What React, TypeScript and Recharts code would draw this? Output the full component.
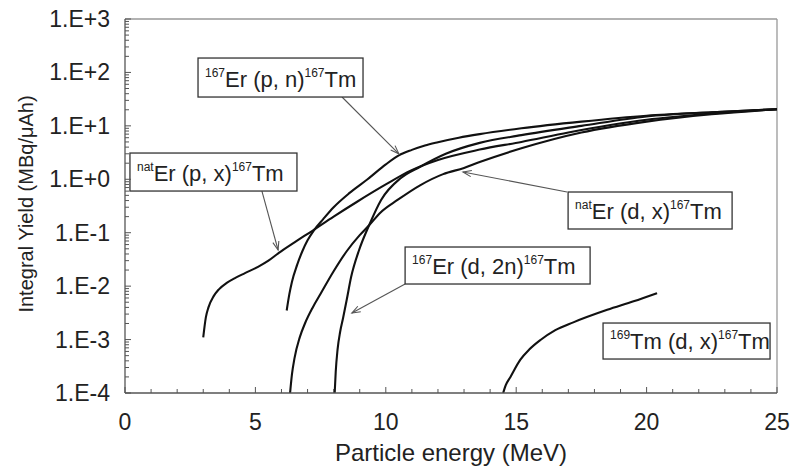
import React from 'react';
import { LineChart, Line, XAxis, YAxis, ReferenceLine, ReferenceDot } from 'recharts';

// ---- data (energy MeV, integral yield MBq/uAh) ----
const natErPxData: [number, number][] = [
  [3.0, 1.1e-3], [3.1, 2.6e-3], [3.2, 4.0e-3], [3.4, 6.5e-3], [3.6, 8.7e-3], [3.9, 0.0115],
  [4.2, 0.014], [4.6, 0.0175], [5.1, 0.023], [5.5, 0.03], [5.9, 0.042], [6.5, 0.066],
  [7.2, 0.11], [8.0, 0.2], [8.9, 0.38], [10.0, 0.8], [10.95, 1.45], [12.0, 2.3],
  [13.6, 3.6], [15.2, 5.0], [17.0, 7.5], [20.0, 13], [22.5, 17], [25, 20.5],
];
const er167PnData: [number, number][] = [
  [6.2, 3.5e-3], [6.3, 7e-3], [6.4, 0.012], [6.6, 0.025], [6.8, 0.045], [7.0, 0.072],
  [7.25, 0.112], [7.6, 0.18], [8.0, 0.3], [8.6, 0.55], [9.3, 1.0], [10.0, 1.9],
  [10.5, 2.8], [11.0, 3.55], [11.5, 4.3], [12.0, 4.95], [12.8, 6.0], [13.6, 7.0],
  [15.2, 9.0], [17.5, 12], [20.0, 15.5], [22.5, 18], [25, 20.5],
];
const er167D2nData: [number, number][] = [
  [8.04, 1e-4], [8.08, 2.5e-4], [8.15, 6.5e-4], [8.25, 1.4e-3], [8.36, 2.5e-3], [8.5, 5.5e-3],
  [8.67, 0.0148], [8.98, 0.048], [9.36, 0.138], [9.82, 0.41], [10.58, 1.06], [11.3, 1.7],
  [12.3, 3.0], [13.6, 4.8], [15.2, 6.7], [17.5, 10], [20.0, 15], [22.5, 18], [25, 20.5],
];
const natErDxData: [number, number][] = [
  [6.33, 1e-4], [6.4, 2.2e-4], [6.5, 4.5e-4], [6.7, 1.1e-3], [6.9, 2.0e-3], [7.2, 4e-3],
  [7.5, 7.2e-3], [8.0, 0.019], [8.5, 0.045], [9.0, 0.09], [9.36, 0.138], [9.8, 0.24],
  [10.45, 0.41], [11.33, 0.78], [12.2, 1.25], [13.0, 1.63], [13.6, 2.1], [15.2, 3.8],
  [17.5, 7.5], [20.0, 12], [22.5, 16.5], [25, 20.5],
];
const tm169DxData: [number, number][] = [
  [14.5, 1e-4], [14.6, 1.4e-4], [14.78, 2.0e-4], [15.16, 4.2e-4], [15.5, 6.5e-4],
  [15.93, 9.8e-4], [16.5, 1.5e-3], [17.19, 2.1e-3], [18.49, 3.6e-3], [19.5, 5.2e-3],
  [20.4, 7.4e-3],
];

const xMajorTicks = [0, 5, 10, 15, 20, 25];
const xAllTicks = [0, 1, 2, 3, 4, 5, 6, 7, 8, 9, 10, 11, 12, 13, 14, 15, 16, 17, 18, 19, 20, 21, 22, 23, 24, 25];
const yMajorTicks = [1e-4, 1e-3, 1e-2, 1e-1, 1, 10, 100, 1000];
const yTickLabels = ['1.E-4', '1.E-3', '1.E-2', '1.E-1', '1.E+0', '1.E+1', '1.E+2', '1.E+3'];
const yMinorMultipliers = [2, 3, 4, 5, 6, 7, 8, 9];

const xTitle = 'Particle energy (MeV)';
const yTitle = 'Integral Yield (MBq/\u03BCAh)';

type Part = [string, string];
const annotationBoxes: { parts: Part[]; x: number; y: number; w: number; h: number }[] = [
  { parts: [['s', '167'], ['t', 'Er (p, n)'], ['s', '167'], ['t', 'Tm']], x: 2.8, y: 186, w: 165, h: 39 },
  { parts: [['s', 'nat'], ['t', 'Er (p, x)'], ['s', '167'], ['t', 'Tm']], x: 0.19, y: 3.1, w: 167, h: 38 },
  { parts: [['s', 'nat'], ['t', 'Er (d, x)'], ['s', '167'], ['t', 'Tm']], x: 16.99, y: 0.578, w: 164, h: 37 },
  { parts: [['s', '167'], ['t', 'Er (d, 2n)'], ['s', '167'], ['t', 'Tm']], x: 10.74, y: 0.054, w: 185, h: 37 },
  { parts: [['s', '169'], ['t', 'Tm (d, x)'], ['s', '167'], ['t', 'Tm']], x: 18.33, y: 2.04e-3, w: 167, h: 36 },
];
const annotationArrows: { from: [number, number]; to: [number, number] }[] = [
  { from: [8.32, 34.7], to: [10.5, 3.0] },
  { from: [5.25, 0.6], to: [5.87, 0.0475] },
  { from: [16.95, 0.578], to: [12.96, 1.37] },
  { from: [10.74, 0.011], to: [8.7, 3.14e-3] },
];

const FONT = '"Liberation Sans", Arial, sans-serif';

const toPts = (arr: [number, number][]) => arr.map(([x, y]) => ({ x, y }));

const yAllTicks: number[] = [];
yMajorTicks.forEach((m, i) => {
  yAllTicks.push(m);
  if (i < yMajorTicks.length - 1) yMinorMultipliers.forEach((k) => yAllTicks.push(m * k));
});

const majorIndex = (v: number) => {
  const l = Math.log10(v);
  const r = Math.round(l);
  if (Math.abs(l - r) < 1e-6) return yMajorTicks.findIndex((m) => Math.abs(Math.log10(m) - r) < 1e-6);
  return -1;
};

const XTick = (props: any) => {
  const { x, y, payload } = props;
  const v = payload.value;
  const major = xMajorTicks.includes(v);
  return (
    <g>
      <line x1={x} x2={x} y1={y} y2={y - (major ? 6 : 4)} stroke="#555" strokeWidth={1} />
      {major && (
        <text x={x} y={y + 37} textAnchor="middle" fontSize={23} fill="#222" fontFamily={FONT}>
          {v}
        </text>
      )}
    </g>
  );
};

const YTick = (props: any) => {
  const { x, y, payload } = props;
  const idx = majorIndex(payload.value);
  const major = idx >= 0;
  return (
    <g>
      <line x1={x} x2={x + (major ? 6 : 4)} y1={y} y2={y} stroke="#555" strokeWidth={1} />
      {major && (
        <text x={x - 15} y={y + 8} textAnchor="end" fontSize={23} fill="#222" fontFamily={FONT}>
          {yTickLabels[idx]}
        </text>
      )}
    </g>
  );
};

const BoxShape = (w: number, h: number, parts: Part[]) => (props: any) => {
  const { cx, cy } = props;
  const base = cy + h - 10;
  const spans: React.ReactNode[] = [];
  let sup = false;
  parts.forEach(([kind, txt], i) => {
    if (kind === 's') {
      spans.push(
        <tspan key={i} fontSize={12} dy={sup ? 0 : -10}>
          {txt}
        </tspan>
      );
      sup = true;
    } else {
      spans.push(
        <tspan key={i} fontSize={22} dy={sup ? 10 : 0}>
          {txt}
        </tspan>
      );
      sup = false;
    }
  });
  return (
    <g>
      <rect x={cx} y={cy} width={w} height={h} fill="#fff" stroke="#333" strokeWidth={1.3} />
      <text x={cx + 7} y={base} fill="#222" fontFamily={FONT} textAnchor="start">
        {spans}
      </text>
    </g>
  );
};

const ArrowShape = (props: any) => {
  const { x1, y1, x2, y2 } = props;
  if ([x1, y1, x2, y2].some((v) => v === undefined || isNaN(v))) return <g />;
  const ang = Math.atan2(y2 - y1, x2 - x1);
  const len = 9;
  const a1 = ang + Math.PI - 0.35;
  const a2 = ang + Math.PI + 0.35;
  return (
    <g>
      <line x1={x1} y1={y1} x2={x2} y2={y2} stroke="#555" strokeWidth={1.1} />
      <polyline
        points={`${x2 + len * Math.cos(a1)},${y2 + len * Math.sin(a1)} ${x2},${y2} ${x2 + len * Math.cos(a2)},${y2 + len * Math.sin(a2)}`}
        fill="none"
        stroke="#555"
        strokeWidth={1.1}
      />
    </g>
  );
};

const series = [natErPxData, er167PnData, er167D2nData, natErDxData, tm169DxData];

export default function App() {
  return (
    <div style={{ position: 'absolute', left: 0, top: 0, width: 792, height: 471, background: '#fff', fontFamily: FONT }}>
      <LineChart width={792} height={471} margin={{ top: 19, right: 15, bottom: 0, left: 0 }}>
        <XAxis
          dataKey="x"
          type="number"
          domain={[0, 25]}
          ticks={xAllTicks}
          interval={0}
          allowDataOverflow
          height={78}
          tickSize={0}
          tickMargin={0}
          tickLine={false}
          tick={(p: any) => <XTick {...p} />}
          axisLine={{ stroke: '#555', strokeWidth: 1.3 }}
          label={{
            content: (p: any) => {
              const vb = p.viewBox || { x: 125, y: 393, width: 652 };
              return (
                <text x={vb.x + vb.width / 2} y={vb.y + 68} textAnchor="middle" fontSize={24} fill="#222" fontFamily={FONT}>
                  {xTitle}
                </text>
              );
            },
          }}
        />
        <YAxis
          type="number"
          scale="log"
          domain={[1e-4, 1000]}
          ticks={yAllTicks}
          interval={0}
          allowDataOverflow
          width={125}
          tickSize={0}
          tickMargin={0}
          tickLine={false}
          tick={(p: any) => <YTick {...p} />}
          axisLine={{ stroke: '#555', strokeWidth: 1.3 }}
          label={{
            content: () => (
              <text x={33} y={204} transform="rotate(-90, 33, 204)" textAnchor="middle" fontSize={20} fill="#222" fontFamily={FONT}>
                {yTitle}
              </text>
            ),
          }}
        />
        <ReferenceLine y={1000} stroke="#999" strokeWidth={1.3} />
        <ReferenceLine x={25} stroke="#999" strokeWidth={1.3} />
        {series.map((d, i) => (
          <Line
            key={i}
            data={toPts(d)}
            dataKey="y"
            type="monotone"
            dot={false}
            activeDot={false}
            stroke="#111"
            strokeWidth={2.1}
            isAnimationActive={false}
          />
        ))}
        {annotationArrows.map((a, i) => (
          <ReferenceLine
            key={'a' + i}
            segment={[
              { x: a.from[0], y: a.from[1] },
              { x: a.to[0], y: a.to[1] },
            ]}
            ifOverflow="visible"
            shape={(p: any) => <ArrowShape {...p} />}
          />
        ))}
        {annotationBoxes.map((b, i) => (
          <ReferenceDot
            key={'b' + i}
            x={b.x}
            y={b.y}
            r={0}
            ifOverflow="visible"
            shape={BoxShape(b.w, b.h, b.parts)}
          />
        ))}
      </LineChart>
    </div>
  );
}
